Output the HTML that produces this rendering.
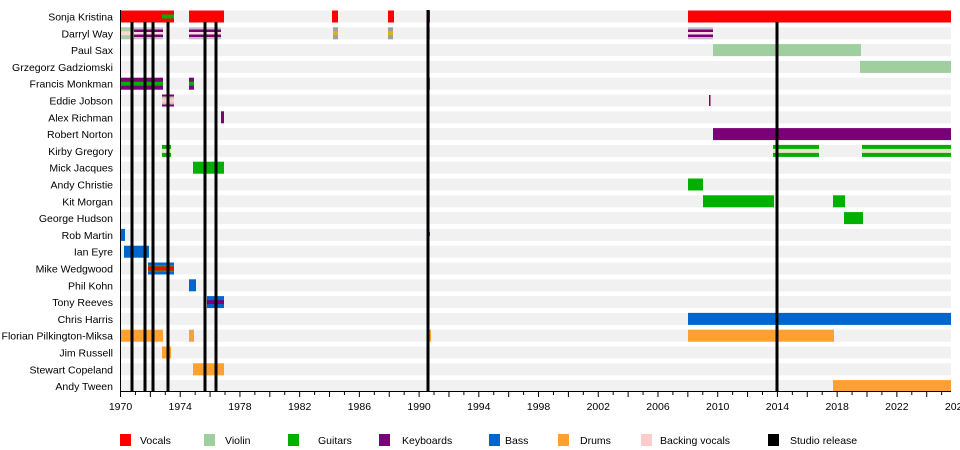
<!DOCTYPE html>
<html><head><meta charset="utf-8"><style>
body{margin:0;background:#fff;}
svg{display:block;font-family:"Liberation Sans",Arial,sans-serif;}
</style></head><body>
<svg width="960" height="450" viewBox="0 0 960 450">
<g id="bg" fill="#f1f1f1">
<rect x="120" y="10.5" width="831" height="12"/><rect x="120" y="27.3" width="831" height="12"/><rect x="120" y="44.1" width="831" height="12"/><rect x="120" y="60.9" width="831" height="12"/><rect x="120" y="77.7" width="831" height="12"/><rect x="120" y="94.5" width="831" height="12"/><rect x="120" y="111.3" width="831" height="12"/><rect x="120" y="128.1" width="831" height="12"/><rect x="120" y="144.9" width="831" height="12"/><rect x="120" y="161.7" width="831" height="12"/><rect x="120" y="178.5" width="831" height="12"/><rect x="120" y="195.3" width="831" height="12"/><rect x="120" y="212.1" width="831" height="12"/><rect x="120" y="228.9" width="831" height="12"/><rect x="120" y="245.7" width="831" height="12"/><rect x="120" y="262.5" width="831" height="12"/><rect x="120" y="279.3" width="831" height="12"/><rect x="120" y="296.1" width="831" height="12"/><rect x="120" y="312.9" width="831" height="12"/><rect x="120" y="329.7" width="831" height="12"/><rect x="120" y="346.5" width="831" height="12"/><rect x="120" y="363.3" width="831" height="12"/><rect x="120" y="380.1" width="831" height="11"/>
</g>
<g font-size="10.5" fill="#000" text-anchor="end">
<text x="113" y="20.5">Sonja Kristina</text><text x="113" y="37.3">Darryl Way</text><text x="113" y="54.1">Paul Sax</text><text x="113" y="70.9">Grzegorz Gadziomski</text><text x="113" y="87.7">Francis Monkman</text><text x="113" y="104.5">Eddie Jobson</text><text x="113" y="121.3">Alex Richman</text><text x="113" y="138.1">Robert Norton</text><text x="113" y="154.9">Kirby Gregory</text><text x="113" y="171.7">Mick Jacques</text><text x="113" y="188.5">Andy Christie</text><text x="113" y="205.3">Kit Morgan</text><text x="113" y="222.1">George Hudson</text><text x="113" y="238.9">Rob Martin</text><text x="113" y="255.7">Ian Eyre</text><text x="113" y="272.5">Mike Wedgwood</text><text x="113" y="289.3">Phil Kohn</text><text x="113" y="306.1">Tony Reeves</text><text x="113" y="322.9">Chris Harris</text><text x="113" y="339.7">Florian Pilkington-Miksa</text><text x="113" y="356.5">Jim Russell</text><text x="113" y="373.3">Stewart Copeland</text><text x="113" y="390.1">Andy Tween</text>
</g>
<g fill="#ff0000"><rect x="120" y="10.5" width="54" height="12"/><rect x="189" y="10.5" width="35" height="12"/><rect x="332" y="10.5" width="6" height="12"/><rect x="388" y="10.5" width="6" height="12"/><rect x="427" y="10.5" width="3" height="12"/><rect x="688" y="10.5" width="263" height="12"/></g>
<rect x="162" y="14.5" width="12" height="4" fill="#00b000"/>
<rect x="120" y="27.3" width="14" height="12" fill="#a8cfa8"/><rect x="120" y="31.3" width="14" height="4" fill="#ffd6d0"/>
<g><rect x="134" y="27.3" width="29" height="12" fill="#c4c0c8"/><rect x="134" y="29.5" width="29" height="2.5" fill="#7a0077"/><rect x="134" y="34.5" width="29" height="2.5" fill="#7a0077"/><rect x="134" y="32" width="29" height="2.5" fill="#ffdede"/></g>
<g><rect x="189" y="27.3" width="32" height="12" fill="#c4c0c8"/><rect x="189" y="29.5" width="32" height="2.5" fill="#7a0077"/><rect x="189" y="34.5" width="32" height="2.5" fill="#7a0077"/><rect x="189" y="32" width="32" height="2.5" fill="#ffdede"/></g>
<g><rect x="688" y="27.3" width="25" height="12" fill="#c4c0c8"/><rect x="688" y="29.5" width="25" height="2.5" fill="#7a0077"/><rect x="688" y="34.5" width="25" height="2.5" fill="#7a0077"/><rect x="688" y="32" width="25" height="2.5" fill="#ffdede"/></g>
<g><rect x="333" y="27.3" width="5" height="12" fill="#a0a0a0"/><rect x="333" y="31" width="5" height="4" fill="#d8b020"/><rect x="388" y="27.3" width="5" height="12" fill="#a0a0a0"/><rect x="388" y="31" width="5" height="4" fill="#d8b020"/><rect x="427" y="27.3" width="3" height="12" fill="#e0b0c0"/></g>
<rect x="713" y="44.1" width="148" height="12" fill="#9fcf9f"/><rect x="860" y="60.9" width="91" height="12" fill="#9fcf9f"/>
<rect x="120" y="77.7" width="43" height="12" fill="#7a0077"/><rect x="120" y="81.7" width="43" height="4" fill="#00b000"/>
<rect x="189" y="77.7" width="5" height="12" fill="#7a0077"/><rect x="189" y="81.7" width="5" height="4" fill="#00b000"/><rect x="427" y="77.7" width="3" height="12" fill="#3090a0"/>
<rect x="162" y="94.5" width="12" height="12" fill="#7a0077"/><rect x="162" y="96.5" width="12" height="8" fill="#c0c8b8"/><rect x="162" y="98.5" width="12" height="4" fill="#ffcccc"/><rect x="709" y="95" width="1.5" height="11" fill="#7a0077"/>
<rect x="221" y="111.3" width="3" height="12" fill="#7a0077"/>
<rect x="713" y="128.1" width="238" height="12" fill="#7a0077"/>
<g fill="#00b000"><rect x="162" y="144.9" width="9" height="12"/><rect x="773" y="144.9" width="46" height="12"/><rect x="862" y="144.9" width="89" height="12"/></g>
<g fill="#e8e4c0"><rect x="162" y="148.9" width="9" height="4"/><rect x="773" y="148.9" width="46" height="4"/><rect x="862" y="148.9" width="89" height="4"/></g>
<g fill="#00b000"><rect x="193" y="161.7" width="31" height="12"/><rect x="688" y="178.5" width="15" height="12"/><rect x="703" y="195.3" width="71" height="12"/><rect x="833" y="195.3" width="12" height="12"/><rect x="844" y="212.1" width="19" height="12"/></g>
<g fill="#0066cc"><rect x="120" y="228.9" width="5" height="12"/><rect x="427" y="232" width="3" height="4"/><rect x="124" y="245.7" width="25" height="12"/><rect x="148" y="262.5" width="26" height="12"/><rect x="189" y="279.3" width="7" height="12"/><rect x="207" y="296.1" width="17" height="12"/><rect x="688" y="312.9" width="263" height="12"/></g>
<rect x="148" y="265" width="26" height="7" fill="#00b000"/><rect x="148" y="266.5" width="26" height="4" fill="#ff0000"/>
<rect x="207" y="300.1" width="17" height="4" fill="#7a0077"/>
<g fill="#ffa030"><rect x="120" y="329.7" width="43" height="12"/><rect x="189" y="329.7" width="5" height="12"/><rect x="427" y="329.7" width="4" height="12"/><rect x="688" y="329.7" width="146" height="12"/><rect x="162" y="346.5" width="9" height="12"/><rect x="193" y="363.3" width="31" height="12"/><rect x="833" y="380.1" width="118" height="11"/></g>
<g fill="#000"><rect x="130.5" y="22" width="3" height="369"/><rect x="143.5" y="22" width="3" height="369"/><rect x="151.5" y="22" width="3" height="369"/><rect x="166.5" y="22" width="3" height="369"/><rect x="203.5" y="22" width="3" height="369"/><rect x="214.5" y="22" width="3" height="369"/><rect x="426.5" y="10" width="3" height="381"/><rect x="775.5" y="22" width="3" height="369"/></g>
<line x1="120.5" y1="391" x2="120.5" y2="10" stroke="#000"/>
<line x1="120" y1="391.5" x2="951" y2="391.5" stroke="#000"/>
<g stroke="#000" id="ticks"></g>
<g font-size="10.5" text-anchor="middle" id="lbl"></g>
<g font-size="10.5">
<rect x="120" y="434" width="11" height="12" fill="#ff0000"/><text x="140" y="444">Vocals</text>
<rect x="204" y="434" width="11" height="12" fill="#9fcf9f"/><text x="225" y="444">Violin</text>
<rect x="288" y="434" width="11" height="12" fill="#00b000"/><text x="318" y="444">Guitars</text>
<rect x="379" y="434" width="11" height="12" fill="#7a0077"/><text x="402" y="444">Keyboards</text>
<rect x="489" y="434" width="11" height="12" fill="#0066cc"/><text x="505" y="444">Bass</text>
<rect x="558" y="434" width="11" height="12" fill="#ffa030"/><text x="580" y="444">Drums</text>
<rect x="641" y="434" width="11" height="12" fill="#ffcccc"/><text x="660" y="444">Backing vocals</text>
<rect x="768" y="434" width="11" height="12" fill="#000"/><text x="790" y="444">Studio release</text>
</g>
</svg>
<script>
var t=document.getElementById('ticks'),l=document.getElementById('lbl'),ns='http://www.w3.org/2000/svg';
for(var y=1970;y<=2025;y++){var x=120.5+(y-1970)*14.93;var ln=document.createElementNS(ns,'line');ln.setAttribute('x1',x);ln.setAttribute('x2',x);ln.setAttribute('y1',391);ln.setAttribute('y2',y%2==0?397:395);t.appendChild(ln);}
for(var y=1970;y<=2026;y+=4){var x=120.5+(y-1970)*14.93;var tx=document.createElementNS(ns,'text');tx.setAttribute('x',x);tx.setAttribute('y',410);tx.textContent=y;l.appendChild(tx);}
</script>
</body></html>
